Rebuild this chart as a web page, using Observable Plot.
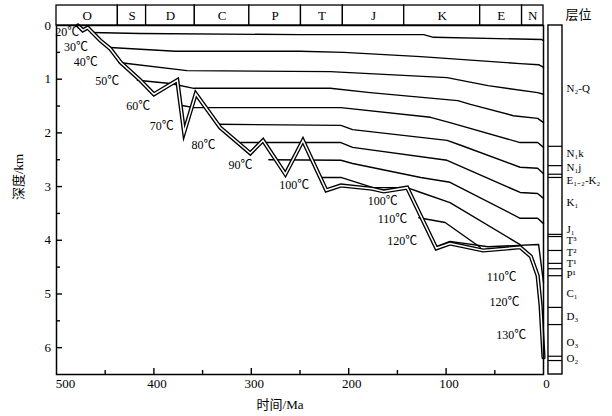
<!DOCTYPE html>
<html><head><meta charset="utf-8">
<script src="https://cdn.jsdelivr.net/npm/d3@7"></script>
<script src="https://cdn.jsdelivr.net/npm/@observablehq/plot@0.6"></script>
<style>body{margin:0;background:#fff}</style>
</head><body><div id="chart"></div>
<script>
// Geological periods (top strip), Ma
const periods = ["O","S","D","C","P","T","J","K","E","N"];
const periodStart = [500,437,408,358,302,249,206,143,65,22];
const periodEnd   = [437,408,358,302,249,206,143,65,22,0];

// Burial curve of the deepest strata (age Ma, depth km)
const burialAge   = [478,473,468,455,445,434,414,400,376,369,357,332,301,288,265,247,223,208,176,164,140,110,96,62,24,13,6,3,0];
const burialDepth = [0,0.09,0.04,0.28,0.43,0.69,1.02,1.28,1.02,1.99,1.27,1.90,2.38,2.14,2.77,2.14,3.07,2.98,3.04,3.09,3.02,4.15,4.06,4.19,4.13,4.30,4.66,5.21,6.18];

// Isotherms: [age Ma, depth km]
const iso20  = [[465,0.13],[414,0.15],[250,0.17],[123,0.17],[113,0.22],[2,0.26],[0,0.28]];
const iso30  = [[445,0.41],[378,0.48],[250,0.48],[205,0.50],[126,0.58],[24,0.71],[5,0.73],[0,0.78]];
const iso40  = [[436,0.69],[366,0.84],[219,0.86],[99,0.97],[57,1.12],[6,1.25],[0,1.28]];
const iso50  = [[417,1.02],[383,1.08],[359,1.17],[219,1.17],[178,1.25],[88,1.40],[75,1.47],[31,1.68],[6,1.73],[0,1.81]];
const iso60  = [[371,1.49],[359,1.53],[208,1.53],[116,1.71],[96,1.81],[24,2.18],[6,2.18],[0,2.27]];
const iso70  = [[335,1.84],[208,1.86],[196,1.94],[99,2.14],[85,2.23],[24,2.64],[6,2.66],[0,2.76]];
const iso80  = [[311,2.18],[208,2.18],[196,2.27],[99,2.51],[24,3.11],[6,3.13],[0,3.22]];
const iso90  = [[282,2.50],[208,2.51],[196,2.57],[126,2.83],[96,2.92],[24,3.59],[6,3.59],[0,3.69]];
const iso100 = [[229,2.83],[208,2.83],[175,3.02],[140,3.02],[126,3.11],[96,3.30],[24,4.08]];
const iso110 = [[128,3.58],[101,3.67],[65,4.13]];
const iso120 = [[110,4.12],[96,4.02],[57,4.12],[5,4.08],[0,4.79]];
const isoTemps = [20,30,40,50,60,70,80,90,100,110,120];
const isoLines = [iso20,iso30,iso40,iso50,iso60,iso70,iso80,iso90,iso100,iso110,iso120];

// Temperature labels
const labelText  = ["20℃","30℃","40℃","50℃","60℃","70℃","80℃","90℃","100℃","100℃","110℃","120℃","110℃","120℃","130℃"];
const labelAge   = [489,480,470,448,416,392,349,311,256,165,155,145,43,40,33];
const labelDepth = [0.13,0.41,0.69,1.04,1.51,1.88,2.23,2.61,2.98,3.28,3.61,4.02,4.69,5.16,5.77];

// Strata column
const strataNames = ["N₂-Q","N₁k","N₁j","E₁₋₂-K₂","K₁","J₁","T³","T²","T¹","P¹","C₁","D₃","O₃","O₂"];
const strataLabelDepth = [1.17,2.38,2.64,2.88,3.30,3.80,4.01,4.22,4.43,4.64,4.99,5.42,5.91,6.20];
const strataBounds = [2.25,2.61,2.77,2.83,3.89,3.93,4.19,4.43,4.53,4.66,5.25,5.57,6.16,6.24];

// Axis ticks
const xTickLabels = [500,400,300,200,100,0];
const yTickLabels = [0,1,2,3,4,5,6];
const xTicks = [450,400,350,300,250,200,150,100,50];
const yTicks = [0.5,1,1.5,2,2.5,3,3.5,4,4.5,5,5.5,6];

const isoRows = isoLines.flatMap((pts, i) => pts.map(([a, d]) => ({t: isoTemps[i], age: a, depth: d})));
const burial = burialAge.map((a, i) => ({age: a, depth: burialDepth[i]}));
const periodRows = periods.map((p, i) => ({p, x1: periodStart[i], x2: periodEnd[i]}));
const labels = labelText.map((t, i) => ({t, age: labelAge[i], depth: labelDepth[i]}));
const strata = strataNames.map((n, i) => ({n, depth: strataLabelDepth[i]}));

const stripTop = -0.372, colX1 = -5.1, colX2 = -19.5, colText = -23.6;
const pxPerKm = 53.7;

const chart = Plot.plot({
  width: 612, height: 416,
  marginLeft: 56, marginRight: 69, marginTop: 25, marginBottom: 42,
  x: {domain: [500, 0], axis: null},
  y: {domain: [0, 6.5], reverse: true, axis: null},
  style: {fontFamily: "'Liberation Serif', 'Noto Sans CJK SC', serif", fontSize: "12px", background: "white", color: "black"},
  marks: [
    // period strip
    Plot.rect(periodRows, {x1: "x1", x2: "x2", y1: stripTop, y2: 0, fill: "white", stroke: "black", strokeWidth: 1.3}),
    Plot.text(periodRows, {x: d => (d.x1 + d.x2) / 2, y: stripTop / 2, text: "p", fontSize: 13}),
    // isotherms
    Plot.line(isoRows, {x: "age", y: "depth", z: "t", stroke: "black", strokeWidth: 1.4}),
    // burial double line
    Plot.line(burial, {x: "age", y: "depth", stroke: "black", strokeWidth: 4.2, strokeLinejoin: "miter", strokeMiterlimit: 6}),
    Plot.line(burial, {x: "age", y: "depth", stroke: "white", strokeWidth: 1.5, strokeLinejoin: "miter", strokeMiterlimit: 6}),
    // frame and ticks
    Plot.frame({stroke: "black", strokeWidth: 1.5}),
    Plot.ruleX(xTicks, {x: d => d, y1: 6.5, y2: d => 6.5 - (d % 100 === 0 ? 6 : 4) / pxPerKm, stroke: "black", strokeWidth: 1.4}),
    Plot.ruleY(yTicks, {y: d => d, x1: 500, x2: d => 500 - (d % 1 === 0 ? 6 : 4) / 0.974, stroke: "black", strokeWidth: 1.4}),
    Plot.text(xTickLabels.filter(d => d !== 500), {x: d => d, frameAnchor: "bottom", dy: 13, dx: 3, fontSize: 13}),
    Plot.text(xTickLabels.filter(d => d === 500), {x: d => d, frameAnchor: "bottom", dy: 13, dx: 9, fontSize: 13}),
    Plot.text(yTickLabels, {y: d => d, frameAnchor: "left", dx: -12, fontSize: 13}),
    Plot.text(["时间/Ma"], {frameAnchor: "bottom", dy: 34, dx: -20, fontSize: 13}),
    Plot.text(["深度/km"], {frameAnchor: "left", dx: -38, rotate: -90, fontSize: 13}),
    // temperature labels
    Plot.text(labels, {x: "age", y: "depth", text: "t", fontSize: 12}),
    // strata column
    Plot.rect([0], {x1: colX1, x2: colX2, y1: 0, y2: 6.5, fill: "white", stroke: "black", strokeWidth: 1.4}),
    Plot.ruleY(strataBounds, {y: d => d, x1: colX1, x2: colX2, stroke: "black", strokeWidth: 1.2}),
    Plot.text(strata, {x: colText, y: "depth", text: "n", textAnchor: "start", fontSize: 11}),
    Plot.text(["层位"], {x: colText + 1, y: stripTop * 0.55, textAnchor: "start", fontSize: 13, fontFamily: "'Noto Sans CJK SC'"})
  ]
});
document.getElementById("chart").appendChild(chart);
</script></body></html>
